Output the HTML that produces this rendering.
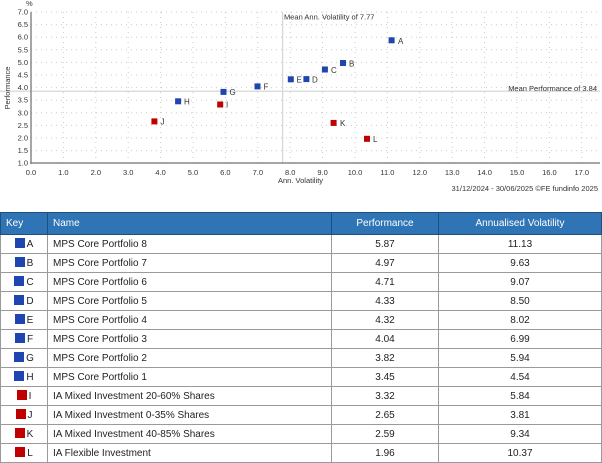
<!DOCTYPE html>
<html><head><meta charset="utf-8"><style>
body{margin:0;width:602px;height:463px;background:#fff;overflow:hidden;font-family:"Liberation Sans",sans-serif}
svg{position:absolute;left:0;top:0}
table{position:absolute;left:0;top:212px;width:602px;border-collapse:collapse;font-size:10px;color:#222}
td,th{border:1px solid #9a9a9a;height:18px;padding:0 5px}
th{background:#2f74b5;color:#fff;font-weight:normal;height:21px;border-color:#1f4f7d}
th.l,td.l{text-align:left}
td.c,th.c{text-align:center}
.sq{display:inline-block;width:10px;height:10px;vertical-align:-1px;margin-right:2px}
.b{background:#1f45b0}.r{background:#c00000}
</style></head><body>
<svg width="602" height="212" font-family="Liberation Sans, sans-serif" font-size="7.5" fill="#333">
<g stroke="#ccc" stroke-width="1" stroke-dasharray="1,4">
<line x1="31" x2="600" y1="12" y2="12"/><line x1="31" x2="600" y1="24.6" y2="24.6"/><line x1="31" x2="600" y1="37.2" y2="37.2"/><line x1="31" x2="600" y1="49.8" y2="49.8"/><line x1="31" x2="600" y1="62.4" y2="62.4"/><line x1="31" x2="600" y1="75" y2="75"/><line x1="31" x2="600" y1="87.6" y2="87.6"/><line x1="31" x2="600" y1="100.2" y2="100.2"/><line x1="31" x2="600" y1="112.8" y2="112.8"/><line x1="31" x2="600" y1="125.4" y2="125.4"/><line x1="31" x2="600" y1="138" y2="138"/><line x1="31" x2="600" y1="150.6" y2="150.6"/>
<line y1="12" y2="163" x1="63.4" x2="63.4"/><line y1="12" y2="163" x1="95.8" x2="95.8"/><line y1="12" y2="163" x1="128.2" x2="128.2"/><line y1="12" y2="163" x1="160.6" x2="160.6"/><line y1="12" y2="163" x1="193" x2="193"/><line y1="12" y2="163" x1="225.4" x2="225.4"/><line y1="12" y2="163" x1="257.8" x2="257.8"/><line y1="12" y2="163" x1="290.2" x2="290.2"/><line y1="12" y2="163" x1="322.6" x2="322.6"/><line y1="12" y2="163" x1="355" x2="355"/><line y1="12" y2="163" x1="387.4" x2="387.4"/><line y1="12" y2="163" x1="419.8" x2="419.8"/><line y1="12" y2="163" x1="452.2" x2="452.2"/><line y1="12" y2="163" x1="484.6" x2="484.6"/><line y1="12" y2="163" x1="517" x2="517"/><line y1="12" y2="163" x1="549.4" x2="549.4"/><line y1="12" y2="163" x1="581.8" x2="581.8"/>
</g>
<line x1="282.7" x2="282.7" y1="12" y2="163" stroke="#ccc" stroke-width="1"/>
<line x1="0" x2="600" y1="91.3" y2="91.3" stroke="#ddd" stroke-width="1.5"/>
<line x1="31" x2="31" y1="12" y2="164" stroke="#888" stroke-width="1.5"/>
<line x1="30" x2="600" y1="163" y2="163" stroke="#888" stroke-width="1.5"/>
<text x="284" y="19.5">Mean Ann. Volatility of 7.77</text>
<text x="597" y="91" text-anchor="end">Mean Performance of 3.84</text>
<text x="26" y="6">%</text>
<g text-anchor="end">
<text x="28" y="14.5">7.0</text><text x="28" y="27">6.5</text><text x="28" y="39.7">6.0</text><text x="28" y="52.3">5.5</text><text x="28" y="64.9">5.0</text><text x="28" y="77.5">4.5</text><text x="28" y="90.1">4.0</text><text x="28" y="102.7">3.5</text><text x="28" y="115.3">3.0</text><text x="28" y="127.9">2.5</text><text x="28" y="140.5">2.0</text><text x="28" y="153.1">1.5</text><text x="28" y="165.7">1.0</text>
</g>
<text transform="translate(10,88) rotate(-90)" text-anchor="middle">Performance</text>
<g text-anchor="middle">
<text x="31" y="175">0.0</text><text x="63.4" y="175">1.0</text><text x="95.8" y="175">2.0</text><text x="128.2" y="175">3.0</text><text x="160.6" y="175">4.0</text><text x="193" y="175">5.0</text><text x="225.4" y="175">6.0</text><text x="257.8" y="175">7.0</text><text x="290.2" y="175">8.0</text><text x="322.6" y="175">9.0</text><text x="355" y="175">10.0</text><text x="387.4" y="175">11.0</text><text x="419.8" y="175">12.0</text><text x="452.2" y="175">13.0</text><text x="484.6" y="175">14.0</text><text x="517" y="175">15.0</text><text x="549.4" y="175">16.0</text><text x="581.8" y="175">17.0</text>
</g>
<text x="278" y="183">Ann. Volatility</text>
<text x="598" y="191" text-anchor="end">31/12/2024 - 30/06/2025 ©FE fundinfo 2025</text>
<g fill="#1f45b0">
<rect x="388.6" y="37.3" width="6" height="6"/><rect x="340" y="60" width="6" height="6"/><rect x="321.9" y="66.5" width="6" height="6"/><rect x="303.4" y="76.1" width="6" height="6"/><rect x="287.8" y="76.3" width="6" height="6"/><rect x="254.5" y="83.4" width="6" height="6"/><rect x="220.5" y="88.9" width="6" height="6"/><rect x="175.1" y="98.3" width="6" height="6"/>
</g>
<g fill="#c00000">
<rect x="217.2" y="101.5" width="6" height="6"/><rect x="151.4" y="118.4" width="6" height="6"/><rect x="330.6" y="119.9" width="6" height="6"/><rect x="364" y="135.8" width="6" height="6"/>
</g>
<g font-size="8">
<text x="398" y="44">A</text><text x="349" y="66.5">B</text><text x="331" y="73">C</text><text x="312" y="82.5">D</text><text x="296.5" y="82.5">E</text><text x="263.5" y="89.5">F</text><text x="229.5" y="95">G</text><text x="184" y="104.5">H</text><text x="226" y="107.5">I</text><text x="160.5" y="124.5">J</text><text x="340" y="126">K</text><text x="373" y="142">L</text>
</g>
</svg>
<table>
<colgroup><col style="width:47px"><col style="width:284px"><col style="width:107px"><col></colgroup>
<tr><th class="l">Key</th><th class="l">Name</th><th class="c">Performance</th><th class="c">Annualised Volatility</th></tr>
<tr><td class="c"><span class="sq b"></span>A</td><td class="l">MPS Core Portfolio 8</td><td class="c">5.87</td><td class="c">11.13</td></tr>
<tr><td class="c"><span class="sq b"></span>B</td><td class="l">MPS Core Portfolio 7</td><td class="c">4.97</td><td class="c">9.63</td></tr>
<tr><td class="c"><span class="sq b"></span>C</td><td class="l">MPS Core Portfolio 6</td><td class="c">4.71</td><td class="c">9.07</td></tr>
<tr><td class="c"><span class="sq b"></span>D</td><td class="l">MPS Core Portfolio 5</td><td class="c">4.33</td><td class="c">8.50</td></tr>
<tr><td class="c"><span class="sq b"></span>E</td><td class="l">MPS Core Portfolio 4</td><td class="c">4.32</td><td class="c">8.02</td></tr>
<tr><td class="c"><span class="sq b"></span>F</td><td class="l">MPS Core Portfolio 3</td><td class="c">4.04</td><td class="c">6.99</td></tr>
<tr><td class="c"><span class="sq b"></span>G</td><td class="l">MPS Core Portfolio 2</td><td class="c">3.82</td><td class="c">5.94</td></tr>
<tr><td class="c"><span class="sq b"></span>H</td><td class="l">MPS Core Portfolio 1</td><td class="c">3.45</td><td class="c">4.54</td></tr>
<tr><td class="c"><span class="sq r"></span>I</td><td class="l">IA Mixed Investment 20-60% Shares</td><td class="c">3.32</td><td class="c">5.84</td></tr>
<tr><td class="c"><span class="sq r"></span>J</td><td class="l">IA Mixed Investment 0-35% Shares</td><td class="c">2.65</td><td class="c">3.81</td></tr>
<tr><td class="c"><span class="sq r"></span>K</td><td class="l">IA Mixed Investment 40-85% Shares</td><td class="c">2.59</td><td class="c">9.34</td></tr>
<tr><td class="c"><span class="sq r"></span>L</td><td class="l">IA Flexible Investment</td><td class="c">1.96</td><td class="c">10.37</td></tr>
</table>
</body></html>
